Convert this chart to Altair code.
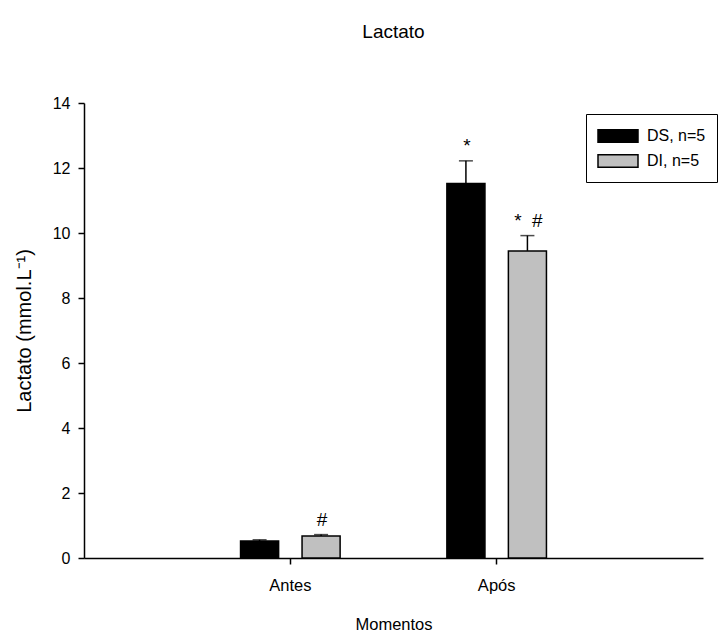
import altair as alt
import pandas as pd

momentos = ["Antes", "Antes", "Após", "Após"]
grupos = ["DS, n=5", "DI, n=5", "DS, n=5", "DI, n=5"]
medias = [0.52, 0.68, 11.52, 9.45]
erros = [0.04, 0.04, 0.70, 0.47]
anotacoes = ["", "#", "*", "*\u00a0\u00a0#"]

ordem_momentos = ["Antes", "Após"]
ordem_grupos = ["DS, n=5", "DI, n=5"]
cores = ["#000000", "#c0c0c0"]

df = pd.DataFrame({
    "momento": momentos,
    "grupo": grupos,
    "media": medias,
    "erro": erros,
    "anot": anotacoes,
})

FONT = "Liberation Sans"

x = alt.X("momento:N", sort=ordem_momentos,
          scale=alt.Scale(paddingInner=0, paddingOuter=0.5),
          axis=alt.Axis(title="Momentos", labelAngle=0))
xo = alt.XOffset("grupo:N", sort=ordem_grupos,
                 scale=alt.Scale(paddingInner=0.381, paddingOuter=0.868))
yscale = alt.Scale(domain=[0, 14], nice=False)

base = alt.Chart(df).transform_calculate(topo="datum.media + datum.erro")

bars = base.mark_bar(stroke="black", strokeWidth=1.5).encode(
    x=x, xOffset=xo,
    y=alt.Y("media:Q", scale=yscale,
            axis=alt.Axis(title="Lactato (mmol.L⁻¹)", values=[0, 2, 4, 6, 8, 10, 12, 14],
                          titleFontSize=20, titlePadding=18)),
    color=alt.Color("grupo:N", sort=ordem_grupos,
                    scale=alt.Scale(domain=ordem_grupos, range=cores),
                    legend=alt.Legend(title=None, orient="none", legendX=502, legendY=11,
                                      symbolType="M-2,-0.625H2V0.625H-2Z", symbolSize=400,
                                      symbolStrokeColor="black", symbolStrokeWidth=1.5,
                                      symbolOffset=10, labelOffset=18,
                                      strokeColor="black", padding=11,
                                      labelFontSize=16, labelFont=FONT, rowPadding=4)),
)

rules = base.mark_rule(color="black", strokeWidth=1.5).encode(
    x=x, xOffset=xo, y=alt.Y("media:Q", scale=yscale), y2="topo:Q")

caps = base.mark_tick(color="black", thickness=1.5, size=14).encode(
    x=x, xOffset=xo, y=alt.Y("topo:Q", scale=yscale))

texts = base.mark_text(baseline="bottom", dy=-5, dx=1, fontSize=19, font=FONT, color="black").encode(
    x=x, xOffset=xo, y=alt.Y("topo:Q", scale=yscale), text="anot:N")

chart = alt.layer(bars, rules, caps, texts).properties(
    width=619, height=455,
    title=alt.TitleParams("Lactato", fontSize=19, font=FONT, fontWeight="normal", offset=53, anchor="middle"),
    autosize=alt.AutoSizeParams(type="none"),
    padding={"left": 84, "top": 103, "right": 19, "bottom": 74},
).configure_view(stroke=None).configure_axis(
    grid=False, domainColor="black", tickColor="black", domainWidth=1.5, tickWidth=1.5,
    labelFont=FONT, titleFont=FONT, labelFontSize=16, titleFontSize=16.5,
    labelColor="black", titleColor="black", titleFontWeight="normal", tickSize=6,
).configure_axisX(labelPadding=13, titlePadding=23, labelFontSize=16.5).configure_axisY(labelPadding=8)

chart.save("out.html", embed_options={"renderer": "svg", "actions": False})
